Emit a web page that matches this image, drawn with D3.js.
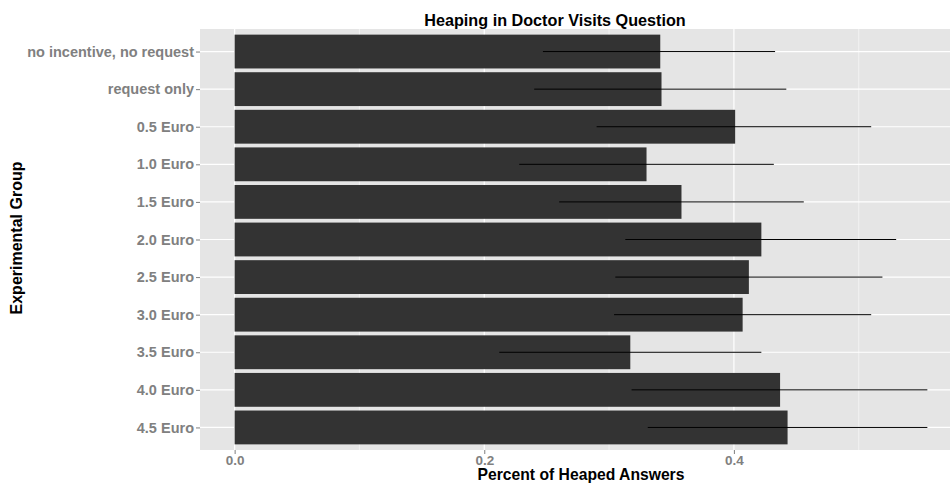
<!DOCTYPE html>
<html>
<head>
<meta charset="utf-8">
<script src="https://cdn.jsdelivr.net/npm/d3@7"></script>
<style>
  html, body { margin: 0; padding: 0; background: #fff; }
  svg { display: block; font-family: "Liberation Sans", Arial, sans-serif; }
</style>
</head>
<body>
<svg id="chart" width="950" height="484"></svg>
<script>
// Share of heaped answers per experimental group, with confidence intervals
const categories = ["no incentive, no request", "request only", "0.5 Euro", "1.0 Euro",
  "1.5 Euro", "2.0 Euro", "2.5 Euro", "3.0 Euro", "3.5 Euro", "4.0 Euro", "4.5 Euro"];
const values = [0.341, 0.342, 0.401, 0.330, 0.358, 0.422, 0.412, 0.407, 0.317, 0.437, 0.443];
const lower  = [0.247, 0.240, 0.290, 0.228, 0.260, 0.313, 0.305, 0.304, 0.212, 0.318, 0.331];
const upper  = [0.433, 0.442, 0.510, 0.432, 0.456, 0.530, 0.519, 0.510, 0.422, 0.555, 0.555];
const majorTicks = [0.0, 0.2, 0.4];
const minorTicks = [0.1, 0.3, 0.5];
const tickLabels = ["0.0", "0.2", "0.4"];

const rows = categories.map((c, i) => ({ cat: c, v: values[i], lo: lower[i], hi: upper[i] }));

const svg = d3.select("#chart");
const panel = { left: 200, top: 29, right: 962, bottom: 450 };
const font = "'Liberation Sans', Arial, sans-serif";

const x = d3.scaleLinear().domain([-0.02775, 0.58275]).range([panel.left, panel.right]);
const y = d3.scalePoint().domain(categories).range([panel.top, panel.bottom]).padding(0.6);
const barH = y.step() * 0.9;

// panel background
svg.append("rect")
  .attr("x", panel.left).attr("y", panel.top)
  .attr("width", panel.right - panel.left).attr("height", panel.bottom - panel.top)
  .attr("fill", "#E5E5E5");

// minor grid
svg.append("g").selectAll("line").data(minorTicks).join("line")
  .attr("x1", d => x(d)).attr("x2", d => x(d))
  .attr("y1", panel.top).attr("y2", panel.bottom)
  .attr("stroke", "#F2F2F2").attr("stroke-width", 1);

// major grid
svg.append("g").selectAll("line").data(majorTicks).join("line")
  .attr("x1", d => x(d)).attr("x2", d => x(d))
  .attr("y1", panel.top).attr("y2", panel.bottom)
  .attr("stroke", "#FFFFFF").attr("stroke-width", 1.2);
svg.append("g").selectAll("line").data(categories).join("line")
  .attr("x1", panel.left).attr("x2", panel.right)
  .attr("y1", d => y(d)).attr("y2", d => y(d))
  .attr("stroke", "#FFFFFF").attr("stroke-width", 1.2);

// bars
svg.append("g").selectAll("rect").data(rows).join("rect")
  .attr("x", x(0))
  .attr("y", d => y(d.cat) - barH / 2)
  .attr("width", d => x(d.v) - x(0))
  .attr("height", barH)
  .attr("fill", "#333333");

// interval lines
svg.append("g").selectAll("line").data(rows).join("line")
  .attr("x1", d => x(d.lo)).attr("x2", d => x(d.hi))
  .attr("y1", d => y(d.cat)).attr("y2", d => y(d.cat))
  .attr("stroke", "#000").attr("stroke-width", 1);

// x axis
const xAxis = d3.axisBottom(x).tickValues(majorTicks)
  .tickFormat((d, i) => tickLabels[i]).tickSize(4).tickPadding(1);
const gx = svg.append("g").attr("transform", `translate(0,${panel.bottom})`).call(xAxis);
gx.select(".domain").remove();
gx.selectAll(".tick line").attr("stroke", "#7F7F7F");
gx.selectAll(".tick text").attr("fill", "#808080")
  .style("font-size", "13.5px").style("font-weight", "bold").style("font-family", font);

// y axis
const yAxis = d3.axisLeft(y).tickSize(4).tickPadding(2);
const gy = svg.append("g").attr("transform", `translate(${panel.left},0)`).call(yAxis);
gy.select(".domain").remove();
gy.selectAll(".tick line").attr("stroke", "#7F7F7F");
gy.selectAll(".tick text").attr("fill", "#808080")
  .style("font-size", "14.5px").style("font-weight", "bold").style("font-family", font);

// titles
svg.append("text")
  .attr("x", 555).attr("y", 26)
  .attr("text-anchor", "middle")
  .style("font-size", "16.2px").style("font-weight", "bold").style("font-family", font)
  .attr("fill", "#000")
  .text("Heaping in Doctor Visits Question");

svg.append("text")
  .attr("x", 581).attr("y", 480)
  .attr("text-anchor", "middle")
  .style("font-size", "15.7px").style("font-weight", "bold").style("font-family", font)
  .attr("fill", "#000")
  .text("Percent of Heaped Answers");

svg.append("text")
  .attr("transform", "translate(22,238) rotate(-90)")
  .attr("text-anchor", "middle")
  .style("font-size", "16px").style("font-weight", "bold").style("font-family", font)
  .attr("fill", "#000")
  .text("Experimental Group");
</script>
</body>
</html>
